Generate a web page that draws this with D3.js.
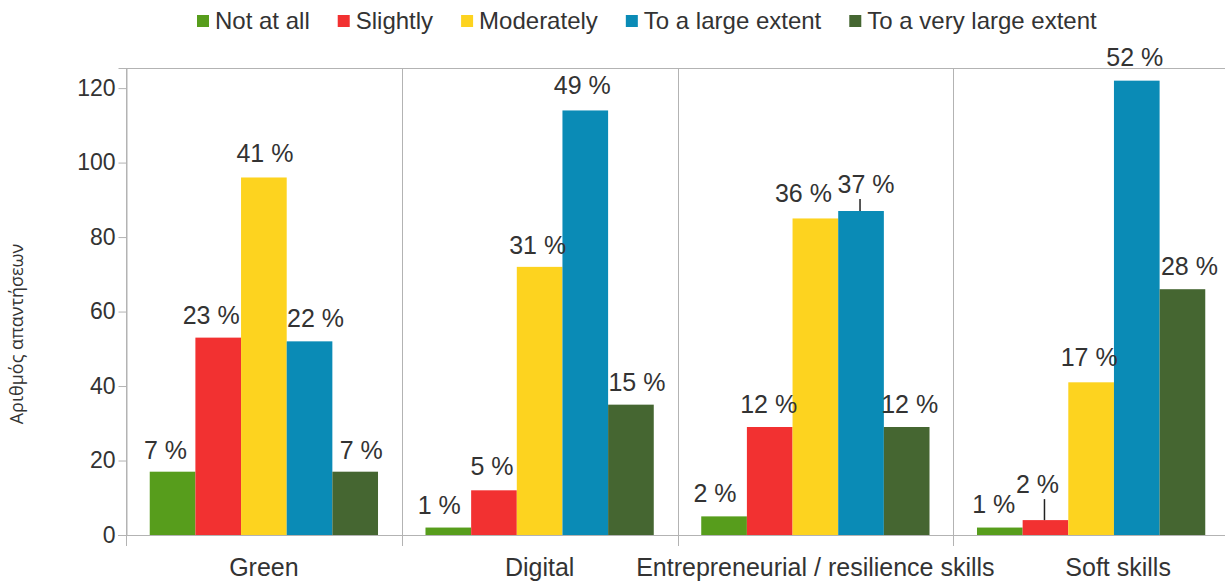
<!DOCTYPE html>
<html>
<head>
<meta charset="utf-8">
<script src="https://cdn.jsdelivr.net/npm/d3@7"></script>
<style>
  html, body { margin: 0; padding: 0; background: #fff; }
  text { font-family: "Liberation Sans", Arial, sans-serif; fill: #333; }
</style>
</head>
<body>
<svg id="chart" width="1225" height="583"></svg>
<script>
// ---- data ----
const categories = ["Green", "Digital", "Entrepreneurial / resilience skills", "Soft skills"];
const seriesNames = ["Not at all", "Slightly", "Moderately", "To a large extent", "To a very large extent"];
const notAtAll        = [17, 2, 5, 2];
const slightly        = [53, 12, 29, 4];
const moderately      = [96, 72, 85, 41];
const largeExtent     = [52, 114, 87, 122];
const veryLargeExtent = [17, 35, 29, 66];
const yTicks = [0, 20, 40, 60, 80, 100, 120];
const yTitle = "Αριθμός απαντήσεων";

const seriesValues = [notAtAll, slightly, moderately, largeExtent, veryLargeExtent];
const colors = ["#579d1c", "#f23131", "#fdd31f", "#0a8bb6", "#456631"];

// label placement tweaks (dx from bar centre, gap above bar top), leader lines
const labelTweak = {
  "0-0": [-7, 13], "0-1": [-7, 14], "0-2": [1, 15], "0-3": [6, 14], "0-4": [6, 13],
  "1-0": [-9, 14], "1-1": [-2, 15], "1-2": [-2, 13], "1-3": [-3, 16], "1-4": [6, 14],
  "2-0": [-9, 14], "2-1": [-1, 14], "2-2": [-12, 16], "2-3": [5, 18], "2-4": [3, 14],
  "3-0": [-6, 15], "3-1": [-8, 27], "3-2": [-2, 16], "3-3": [-2, 15], "3-4": [7, 14]
};
const leaders = {"2-3": true, "3-1": true};
const catLabelDx = [0, 0, 0, 27];

(function () {
  const svg = d3.select("#chart");
  const mLeft = 126, mRight = 1229, mTop = 68, mBottom = 535;

  const x0 = d3.scaleBand().domain(categories.map((d, i) => i)).range([mLeft, mRight]).padding(0);
  const x1 = d3.scaleBand().domain(seriesNames.map((d, i) => i)).range([0, x0.bandwidth()])
    .paddingInner(0).paddingOuter(0.52);
  const y = d3.scaleLinear().domain([0, 125.4]).range([mBottom, mTop]);

  const totals = categories.map((c, ci) => d3.sum(seriesValues, s => s[ci]));

  const g = svg.append("g");
  g.append("line").attr("x1", mLeft).attr("x2", 1225).attr("y1", mTop + 0.5).attr("y2", mTop + 0.5)
    .attr("stroke", "#b3b3b3").attr("stroke-width", 1);
  categories.forEach((c, i) => {
    const xs = Math.round(x0(i));
    g.append("line").attr("x1", xs + 0.5).attr("x2", xs + 0.5).attr("y1", mTop).attr("y2", mBottom + 11)
      .attr("stroke", "#b3b3b3").attr("stroke-width", 1);
  });

  const yAxis = d3.axisLeft(y).tickValues(yTicks).tickSize(8).tickPadding(3);
  const ya = svg.append("g").attr("transform", `translate(${mLeft + 0.5},0)`).call(yAxis);
  ya.select(".domain").attr("stroke", "#b3b3b3");
  ya.selectAll(".tick line").attr("stroke", "#b3b3b3");
  ya.selectAll(".tick text").attr("font-size", 23).attr("fill", "#333")
    .attr("font-family", "Liberation Sans, Arial, sans-serif");

  categories.forEach((c, ci) => {
    seriesValues.forEach((s, si) => {
      const v = s[ci];
      const bx = x0(ci) + x1(si);
      svg.append("rect")
        .attr("x", bx).attr("y", y(v))
        .attr("width", x1.bandwidth()).attr("height", y(0) - y(v))
        .attr("fill", colors[si]);
    });
  });

  svg.append("line").attr("x1", mLeft - 8).attr("x2", 1225).attr("y1", mBottom + 0.5).attr("y2", mBottom + 0.5)
    .attr("stroke", "#b3b3b3").attr("stroke-width", 1);

  categories.forEach((c, ci) => {
    seriesValues.forEach((s, si) => {
      const v = s[ci];
      const cx = x0(ci) + x1(si) + x1.bandwidth() / 2;
      const tw = labelTweak[ci + "-" + si] || [0, 14];
      const pct = Math.round(v / totals[ci] * 100);
      const by = y(v) - tw[1];
      if (leaders[ci + "-" + si]) {
        svg.append("line").attr("x1", cx - 1).attr("x2", cx - 1)
          .attr("y1", y(v)).attr("y2", by + 6)
          .attr("stroke", "#222").attr("stroke-width", 1.5);
      }
      svg.append("text")
        .attr("x", cx + tw[0]).attr("y", by)
        .attr("text-anchor", "middle")
        .attr("font-size", 25)
        .text(pct + " %");
    });
  });

  categories.forEach((c, ci) => {
    svg.append("text")
      .attr("x", x0(ci) + x0.bandwidth() / 2 + catLabelDx[ci])
      .attr("y", 576)
      .attr("text-anchor", "middle")
      .attr("font-size", 25)
      .text(c);
  });

  svg.append("text")
    .attr("transform", "translate(23,334) rotate(-90)")
    .attr("text-anchor", "middle")
    .attr("font-size", 18)
    .style("font-family", "'Open Sans', 'DejaVu Sans', sans-serif")
    .text(yTitle);

  const lg = svg.append("g");
  let lx = 197;
  seriesNames.forEach((name, si) => {
    lg.append("rect").attr("x", lx).attr("y", 15).attr("width", 12).attr("height", 12).attr("fill", colors[si]);
    const t = lg.append("text").attr("x", lx + 18).attr("y", 29).attr("font-size", 24).text(name);
    const w = t.node().getComputedTextLength();
    lx = lx + 18 + w + 28;
  });
})();
</script>
</body>
</html>
